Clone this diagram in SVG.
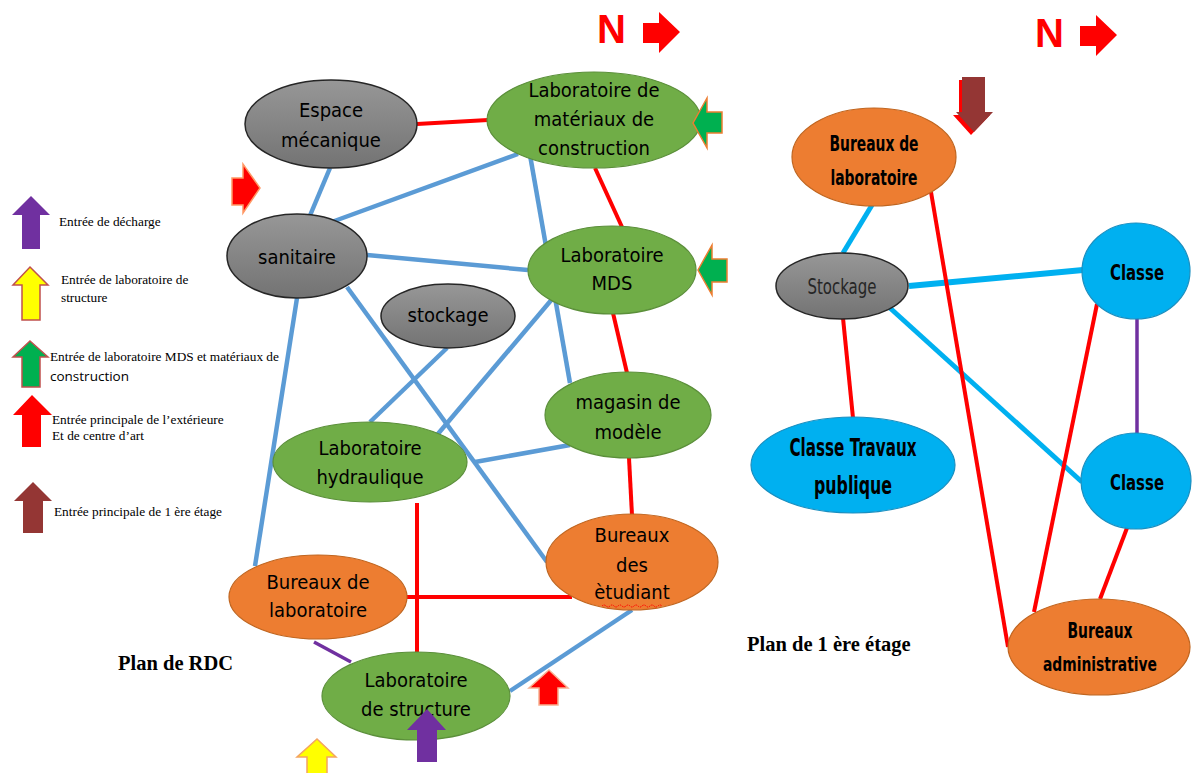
<svg xmlns="http://www.w3.org/2000/svg" width="1192" height="773" viewBox="0 0 1192 773">
<style>
.bl{stroke:#5b9bd5;stroke-width:4.5;fill:none}
.rd{stroke:#ff0000;stroke-width:4;fill:none}
.cy{stroke:#00b0f0;stroke-width:5;fill:none}
.pu{stroke:#7030a0;stroke-width:3.5;fill:none}
.gray{fill:url(#gg);stroke:#262626;stroke-width:1.5}
.green{fill:#70ad47;stroke:#5b8f3a;stroke-width:1.2}
.orange{fill:#ed7d31;stroke:#c0651f;stroke-width:1.2}
.cyan{fill:#00b0f0;stroke:#1a8fc0;stroke-width:1.2}
.t{font-family:"Liberation Sans Narrow","DejaVu Sans Condensed","Liberation Sans",sans-serif;font-size:20px;fill:#000;text-anchor:middle}
.tb{font-family:"Liberation Sans Narrow","DejaVu Sans Condensed","Liberation Sans",sans-serif;font-size:22px;font-weight:bold;fill:#000;text-anchor:middle}
.lg{font-family:"Liberation Serif","Times New Roman",serif;font-size:13.3px;fill:#000}
.pl{font-family:"Liberation Serif","Times New Roman",serif;font-size:20.5px;font-weight:bold;fill:#000}
.nn{font-family:"Liberation Sans",Arial,sans-serif;font-size:40px;font-weight:bold;fill:#ff0000}
</style>
<defs>
<linearGradient id="gg" x1="0" y1="0" x2="0" y2="1">
<stop offset="0" stop-color="#979797"/>
<stop offset="1" stop-color="#737373"/>
</linearGradient>
</defs>
<rect width="1192" height="773" fill="#ffffff"/>

<g id="connectors">
<line class="rd" x1="417" y1="124" x2="488" y2="120"/>
<line class="rd" x1="595" y1="168" x2="622" y2="227"/>
<line class="rd" x1="613" y1="313" x2="627" y2="373"/>
<line class="rd" x1="629" y1="458" x2="632" y2="515"/>
<line class="rd" x1="417" y1="503" x2="417" y2="652"/>
<line class="rd" x1="407" y1="597" x2="572" y2="597"/>
<line class="bl" x1="330" y1="168" x2="306" y2="225"/>
<line class="bl" x1="518" y1="154" x2="318" y2="227"/>
<line class="bl" x1="367" y1="255" x2="528" y2="270"/>
<line class="bl" x1="530" y1="155" x2="570" y2="383"/>
<line class="bl" x1="297" y1="298" x2="255" y2="566"/>
<line class="bl" x1="347" y1="287" x2="547" y2="562"/>
<line class="bl" x1="447" y1="348" x2="370" y2="422"/>
<line class="bl" x1="553" y1="298" x2="437" y2="435"/>
<line class="bl" x1="475" y1="462" x2="570" y2="445"/>
<line class="bl" x1="632" y1="610" x2="510" y2="691"/>
<line class="pu" x1="314" y1="642" x2="351" y2="662"/>
<line class="cy" x1="872" y1="205" x2="843" y2="253"/>
<line class="cy" x1="909" y1="286" x2="1083" y2="270" style="stroke-width:6"/>
<line class="cy" x1="890" y1="308" x2="1082" y2="482"/>
<line class="rd" x1="843" y1="318" x2="853" y2="418"/>
<line class="rd" x1="931" y1="192" x2="1008" y2="647"/>
<line class="rd" x1="1097" y1="304" x2="1034" y2="612"/>
<line class="rd" x1="1127" y1="528" x2="1100" y2="599"/>
<line class="pu" x1="1137" y1="318" x2="1137" y2="434"/>
</g>

<g id="espace-mecanique">
<ellipse class="gray" cx="331" cy="124" rx="86" ry="44"/>
<text class="t" x="331" y="117">Espace</text>
<text class="t" x="331" y="147">mécanique</text>
</g>
<g id="lab-materiaux">
<ellipse class="green" cx="594" cy="120" rx="107" ry="48"/>
<text class="t" x="594" y="97">Laboratoire de</text>
<text class="t" x="594" y="126">matériaux de</text>
<text class="t" x="594" y="155">construction</text>
</g>
<g id="sanitaire">
<ellipse class="gray" cx="297" cy="256" rx="70" ry="42"/>
<text class="t" x="297" y="264">sanitaire</text>
</g>
<g id="lab-mds">
<ellipse class="green" cx="612" cy="270" rx="84" ry="44"/>
<text class="t" x="612" y="262">Laboratoire</text>
<text class="t" x="612" y="290">MDS</text>
</g>
<g id="stockage-rdc">
<ellipse class="gray" cx="448" cy="316" rx="67" ry="32"/>
<text class="t" x="448" y="322">stockage</text>
</g>
<g id="magasin">
<ellipse class="green" cx="628" cy="415" rx="83" ry="43"/>
<text class="t" x="628" y="409">magasin de</text>
<text class="t" x="628" y="439">modèle</text>
</g>
<g id="lab-hydraulique">
<ellipse class="green" cx="370" cy="462" rx="97" ry="40"/>
<text class="t" x="370" y="455">Laboratoire</text>
<text class="t" x="370" y="484">hydraulique</text>
</g>
<g id="bureaux-etudiant">
<ellipse class="orange" cx="632" cy="562" rx="86" ry="48"/>
<text class="t" x="632" y="542">Bureaux</text>
<text class="t" x="632" y="572">des</text>
<text class="t" x="632" y="599">ètudiant</text>
<path d="M602,606 q2,-2 4,0 t4,0 t4,0 t4,0 t4,0 t4,0 t4,0 t4,0 t4,0 t4,0 t4,0 t4,0 t4,0 t4,0 t4,0" fill="none" stroke="#ff0000" stroke-width="1" stroke-dasharray="1.5,1"/>
</g>
<g id="bureaux-labo-rdc">
<ellipse class="orange" cx="318" cy="597" rx="89" ry="42"/>
<text class="t" x="318" y="589">Bureaux de</text>
<text class="t" x="318" y="617">laboratoire</text>
</g>
<g id="lab-structure">
<ellipse class="green" cx="416" cy="696" rx="94" ry="44"/>
<text class="t" x="416" y="687">Laboratoire</text>
<text class="t" x="416" y="716">de structure</text>
</g>

<g id="bureaux-labo-1">
<ellipse class="orange" cx="874" cy="157" rx="82" ry="49"/>
<text class="tb" x="874" y="151" textLength="89" lengthAdjust="spacingAndGlyphs">Bureaux de</text>
<text class="tb" x="874" y="185" textLength="87" lengthAdjust="spacingAndGlyphs">laboratoire</text>
</g>
<g id="stockage-1">
<ellipse class="gray" cx="842" cy="286" rx="66" ry="33"/>
<text class="t" x="842" y="294" style="fill:#262626;font-size:22px" textLength="69" lengthAdjust="spacingAndGlyphs">Stockage</text>
</g>
<g id="classe-1">
<ellipse class="cyan" cx="1136" cy="271" rx="54" ry="48"/>
<text class="tb" x="1137" y="280" textLength="54" lengthAdjust="spacingAndGlyphs">Classe</text>
</g>
<g id="classe-travaux">
<ellipse class="cyan" cx="853" cy="465" rx="102" ry="48"/>
<text class="tb" x="853" y="456" style="font-size:25px" textLength="127" lengthAdjust="spacingAndGlyphs">Classe Travaux</text>
<text class="tb" x="853" y="494" style="font-size:25px" textLength="78" lengthAdjust="spacingAndGlyphs">publique</text>
</g>
<g id="classe-2">
<ellipse class="cyan" cx="1136" cy="481" rx="55" ry="48"/>
<text class="tb" x="1137" y="490" textLength="54" lengthAdjust="spacingAndGlyphs">Classe</text>
</g>
<g id="bureaux-admin">
<ellipse class="orange" cx="1099" cy="647" rx="91" ry="48"/>
<text class="tb" x="1100" y="638" textLength="65" lengthAdjust="spacingAndGlyphs">Bureaux</text>
<text class="tb" x="1100" y="671" style="font-size:19px" textLength="114" lengthAdjust="spacingAndGlyphs">administrative</text>
</g>

<g id="arrows">
<text class="nn" x="597" y="43">N</text>
<polygon points="643,23 659,23 659,12 680,32 659,53 659,43 643,43" fill="#ff0000"/>
<text class="nn" x="1035" y="47">N</text>
<polygon points="1080,26 1096,26 1096,15 1117,35 1096,56 1096,46 1080,46" fill="#ff0000"/>
<polygon points="232,178 243,178 243,164 260,188 243,213 243,205 232,205" fill="#ff0000" stroke="#ff9966" stroke-width="1.5"/>
<polygon points="693,123 707,98 707,112 722,112 722,133 707,133 707,148" fill="#00b050" stroke="#ed7d31" stroke-width="1.5"/>
<polygon points="698,270 712,245 712,259 727,259 727,282 712,282 712,295" fill="#00b050" stroke="#ed7d31" stroke-width="1.5"/>
<polygon points="317,739 336,757 327,757 327,775 307,775 307,757 297,757" fill="#ffff00" stroke="#f4a460" stroke-width="1.5"/>
<polygon points="427,709 446,730 437,730 437,762 417,762 417,730 407,730" fill="#7030a0"/>
<polygon points="549,670 568,688 558,688 558,705 539,705 539,688 529,688" fill="#ff0000" stroke="#f8b090" stroke-width="1.5"/>
<polygon points="959,80 982,80 982,115 990,115 971,135 953,115 959,115" fill="#ff0000"/>
<polygon points="962,77 985,77 985,112 993,112 974,132 956,112 962,112" fill="#943634"/>
</g>

<g id="legend">
<polygon points="31,196 50,215 40,215 40,249 22,249 22,215 12,215" fill="#7030a0"/>
<polygon points="30,267 48,285 40,285 40,320 22,320 22,285 13,285" fill="#ffff00" stroke="#c0504d" stroke-width="1.5"/>
<polygon points="30,341 48,357 40,357 40,387 22,387 22,357 13,357" fill="#00b050" stroke="#c0504d" stroke-width="1.5"/>
<polygon points="32,395 52,415 41,415 41,447 22,447 22,415 13,415" fill="#ff0000"/>
<polygon points="33,482 52,501 43,501 43,533 23,533 23,501 14,501" fill="#943634"/>
<text class="lg" x="59" y="226">Entrée de décharge</text>
<text class="lg" x="61" y="284">Entrée de laboratoire de</text>
<text class="lg" x="61" y="302">structure</text>
<text class="lg" x="50" y="361">Entrée de laboratoire MDS et matériaux de</text>
<text x="50" y="381" style="font-family:'Open Sans','Liberation Sans',sans-serif;font-size:13.5px;fill:#000">construction</text>
<text class="lg" x="52" y="424">Entrée principale de l’extérieure</text>
<text class="lg" x="52" y="440">Et de centre d’art</text>
<text class="lg" x="54" y="516">Entrée principale de 1 ère étage</text>
<text class="pl" x="118" y="670">Plan de RDC</text>
<text class="pl" x="747" y="651">Plan de 1 ère étage</text>
</g>
</svg>
